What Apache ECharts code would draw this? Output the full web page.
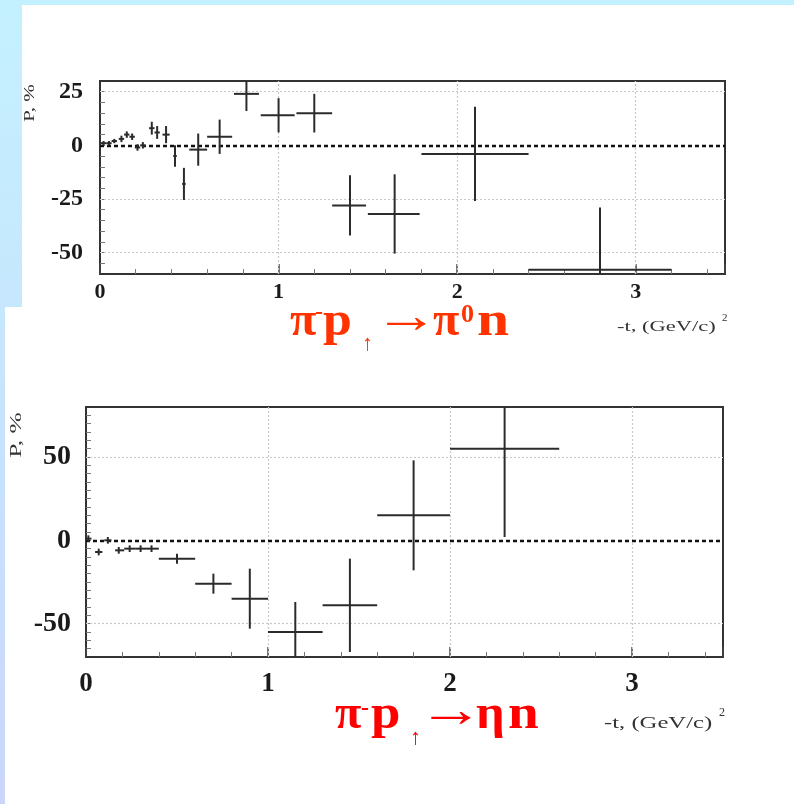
<!DOCTYPE html>
<html>
<head>
<meta charset="utf-8">
<script src="https://cdn.jsdelivr.net/npm/echarts@6/dist/echarts.min.js"></script>
<style>
  html, body { margin: 0; padding: 0; background: #fff; }
  #chart { width: 794px; height: 804px; }
</style>
</head>
<body>
<div id="chart"></div>
<script>
// Analysing power P (%) versus -t for pi- p(polarised) -> pi0 n
const pi0T   = [0.02, 0.05, 0.08, 0.12, 0.15, 0.18, 0.21, 0.24, 0.29, 0.32, 0.37, 0.42, 0.47, 0.55, 0.67, 0.82, 1.00, 1.20, 1.40, 1.65, 2.10, 2.80];
const pi0P   = [1, 1, 2, 3, 5, 4, -1, 0, 8, 6, 5, -5, -18, -2, 4, 24, 14, 15, -28, -32, -4, -58];
const pi0Err = [1, 1, 1, 1.5, 1.5, 1.5, 1.5, 1.5, 3, 3, 4, 5, 7.5, 7.5, 8, 8, 8, 9, 14, 18.5, 22, 29];
const pi0Lo  = [0.005, 0.035, 0.065, 0.105, 0.135, 0.165, 0.195, 0.225, 0.275, 0.305, 0.35, 0.41, 0.46, 0.50, 0.60, 0.75, 0.90, 1.10, 1.30, 1.50, 1.80, 2.40];
const pi0Hi  = [0.035, 0.065, 0.095, 0.135, 0.165, 0.195, 0.225, 0.255, 0.305, 0.335, 0.39, 0.43, 0.48, 0.60, 0.74, 0.89, 1.09, 1.30, 1.49, 1.79, 2.40, 3.20];

// Analysing power P (%) versus -t for pi- p(polarised) -> eta n
const etaT   = [0.013, 0.07, 0.12, 0.18, 0.24, 0.30, 0.36, 0.50, 0.70, 0.90, 1.15, 1.45, 1.80, 2.30];
const etaP   = [1, -7, 0, -6, -5, -5, -5, -11, -26, -35, -55, -39, 15, 55];
const etaErr = [2, 2, 2, 2, 2, 2, 2, 3, 6, 18, 18, 28, 33, 53];
const etaLo  = [0.00, 0.05, 0.10, 0.16, 0.21, 0.27, 0.33, 0.40, 0.60, 0.80, 1.00, 1.30, 1.60, 2.00];
const etaHi  = [0.03, 0.09, 0.14, 0.21, 0.27, 0.33, 0.40, 0.60, 0.80, 1.00, 1.30, 1.60, 2.00, 2.60];

// Tick values
const xTicks = [0, 1, 2, 3];
const xGrid = [1, 2, 3];
const pi0YTicks = [-50, -25, 0, 25];
const etaYTicks = [-50, 0, 50];

const SERIF = '"Liberation Serif", "DejaVu Serif", serif';

function rows(t, p, e, lo, hi) {
  return t.map((v, i) => [v, p[i], e[i], lo[i], hi[i]]);
}

// One measurement drawn as a cross: horizontal bar = t bin, vertical bar = error
function errorCross(params, api) {
  const t = api.value(0), p = api.value(1), e = api.value(2);
  const lo = api.value(3), hi = api.value(4);
  const a = api.coord([lo, p]), b = api.coord([hi, p]);
  const c = api.coord([t, p + e]), d = api.coord([t, p - e]);
  const style = { stroke: '#2b2b2b', lineWidth: 2 };
  return {
    type: 'group',
    children: [
      { type: 'line', shape: { x1: a[0], y1: a[1], x2: b[0], y2: b[1] }, style: style },
      { type: 'line', shape: { x1: c[0], y1: c[1], x2: d[0], y2: d[1] }, style: style }
    ]
  };
}

function xAxisFor(gridIndex, fontSize, margin) {
  return {
    type: 'value', gridIndex: gridIndex, min: 0, max: 3.5, interval: 1,
    axisLine: { show: true, onZero: false, lineStyle: { color: '#333', width: 2 } },
    axisTick: { show: true, inside: true, length: 10, lineStyle: { color: '#444', width: 1.5 } },
    minorTick: { show: true, splitNumber: 5, length: 5, lineStyle: { color: '#777' } },
    splitLine: { show: false },
    axisLabel: {
      showMaxLabel: false, margin: margin,
      color: '#1a1a1a', fontFamily: SERIF, fontWeight: 'bold', fontSize: fontSize,
      formatter: v => (xTicks.indexOf(v) >= 0 ? String(v) : '')
    }
  };
}

// Ticks every 5 %, labels only at the major values
function yAxisFor(gridIndex, min, max, ticks, fontSize, margin) {
  return {
    type: 'value', gridIndex: gridIndex, min: min, max: max, interval: 5,
    axisLine: { show: true, onZero: false, lineStyle: { color: '#333', width: 2 } },
    axisTick: { show: true, inside: true, length: 5, lineStyle: { color: '#777', width: 1 } },
    splitLine: { show: false },
    axisLabel: {
      showMinLabel: false, showMaxLabel: false, margin: margin,
      color: '#1a1a1a', fontFamily: SERIF, fontWeight: 'bold', fontSize: fontSize,
      formatter: v => (ticks.indexOf(v) >= 0 ? String(v) : '')
    }
  };
}

// Dotted zero line plus faint grid lines at the labelled ticks
function guideLines(yTicks) {
  const grey = { color: '#c8c8c8', type: [2, 2], width: 1.2 };
  const items = [];
  yTicks.filter(v => v !== 0).forEach(v => items.push({ yAxis: v, lineStyle: grey }));
  xGrid.forEach(v => items.push({ xAxis: v, lineStyle: grey }));
  items.push({ yAxis: 0, lineStyle: { color: '#111', type: [4, 3], width: 2.4 } });
  return { silent: true, z: 1, symbol: 'none', label: { show: false }, animation: false, data: items };
}

// Reaction label built from positioned pieces (superscripts / subscript arrow)
function formula(pieces, color) {
  return pieces.map(pc => ({
    type: 'text', x: pc.x, y: pc.y, z: 20, silent: true, scaleX: pc.sx || 1,
    style: {
      text: pc.s, fill: color, verticalAlign: 'middle', align: 'left',
      font: (pc.w || 'bold') + ' ' + pc.size + 'px ' + SERIF
    }
  }));
}

const pi0Label = formula([
  { s: 'π', x: 290, y: 323, size: 48 },
  { s: '-', x: 315, y: 313, size: 24 },
  { s: 'p', x: 323, y: 323, size: 48, sx: 1.08 },
  { s: '↑', x: 362, y: 344, size: 22, w: 'normal' },
  { s: '→', x: 374, y: 319, size: 50, w: 'normal', sx: 1.3 },
  { s: 'π', x: 433, y: 323, size: 48 },
  { s: '0', x: 461, y: 315, size: 26 },
  { s: 'n', x: 477, y: 323, size: 48, sx: 1.2 }
], '#ff3300');

const etaLabel = formula([
  { s: 'π', x: 335, y: 716, size: 48 },
  { s: '-', x: 361, y: 709, size: 24 },
  { s: 'p', x: 371, y: 716, size: 48, sx: 1.1 },
  { s: '↑', x: 410, y: 738, size: 22, w: 'normal' },
  { s: '→', x: 418, y: 713, size: 50, w: 'normal', sx: 1.32 },
  { s: 'η', x: 476, y: 716, size: 48, sx: 1.05 },
  { s: 'n', x: 508, y: 716, size: 48, sx: 1.15 }
], '#ff0000');

function tAxisName(x, y, size, sx, supX, supY) {
  return [
    { type: 'text', x: x, y: y, z: 20, silent: true, scaleX: sx,
      style: { text: '-t, (GeV/c)', fill: '#333', verticalAlign: 'middle', font: size + 'px ' + SERIF } },
    { type: 'text', x: supX, y: supY, z: 20, silent: true,
      style: { text: '2', fill: '#333', verticalAlign: 'middle', font: Math.round(size * 0.7) + 'px ' + SERIF } }
  ];
}

function pAxisName(x, y, size, sx) {
  return { type: 'text', x: x, y: y, rotation: Math.PI / 2, z: 20, silent: true, scaleX: sx,
    style: { text: 'P, %', fill: '#333', align: 'center', verticalAlign: 'middle', font: size + 'px ' + SERIF } };
}

const chart = echarts.init(document.getElementById('chart'), null, { renderer: 'canvas' });

chart.setOption({
  animation: false,
  backgroundColor: 'transparent',
  graphic: [
    { type: 'rect', z: -10, silent: true, shape: { x: 0, y: 0, width: 794, height: 804 },
      style: { fill: new echarts.graphic.LinearGradient(0, 0, 0, 1, [
        { offset: 0, color: '#c4f1ff' }, { offset: 1, color: '#cad6fa' }]) } },
    { type: 'rect', z: -9, silent: true, shape: { x: 22, y: 5, width: 772, height: 303 }, style: { fill: '#ffffff' } },
    { type: 'rect', z: -9, silent: true, shape: { x: 5, y: 307, width: 789, height: 497 }, style: { fill: '#ffffff' } },
    ...pi0Label,
    ...etaLabel,
    ...tAxisName(617, 327, 15, 1.5, 722, 318),
    ...tAxisName(604, 724, 17, 1.45, 719, 713),
    pAxisName(30, 103, 14, 1.5),
    pAxisName(17, 435, 17, 1.5)
  ],
  grid: [
    { left: 100, top: 81, width: 625, height: 193, show: true, borderColor: '#333', borderWidth: 2, backgroundColor: 'transparent' },
    { left: 86, top: 407, width: 637, height: 250, show: true, borderColor: '#333', borderWidth: 2, backgroundColor: 'transparent' }
  ],
  xAxis: [xAxisFor(0, 22, 7), xAxisFor(1, 27, 14)],
  yAxis: [
    yAxisFor(0, -60, 30, pi0YTicks, 24, 17),
    yAxisFor(1, -70, 80, etaYTicks, 28, 15)
  ],
  series: [
    {
      type: 'custom', name: 'pi0 n', xAxisIndex: 0, yAxisIndex: 0, clip: true, z: 3,
      renderItem: errorCross, encode: { x: 0, y: 1 },
      data: rows(pi0T, pi0P, pi0Err, pi0Lo, pi0Hi),
      markLine: guideLines(pi0YTicks)
    },
    {
      type: 'custom', name: 'eta n', xAxisIndex: 1, yAxisIndex: 1, clip: true, z: 3,
      renderItem: errorCross, encode: { x: 0, y: 1 },
      data: rows(etaT, etaP, etaErr, etaLo, etaHi),
      markLine: guideLines(etaYTicks)
    }
  ]
});
</script>
</body>
</html>
